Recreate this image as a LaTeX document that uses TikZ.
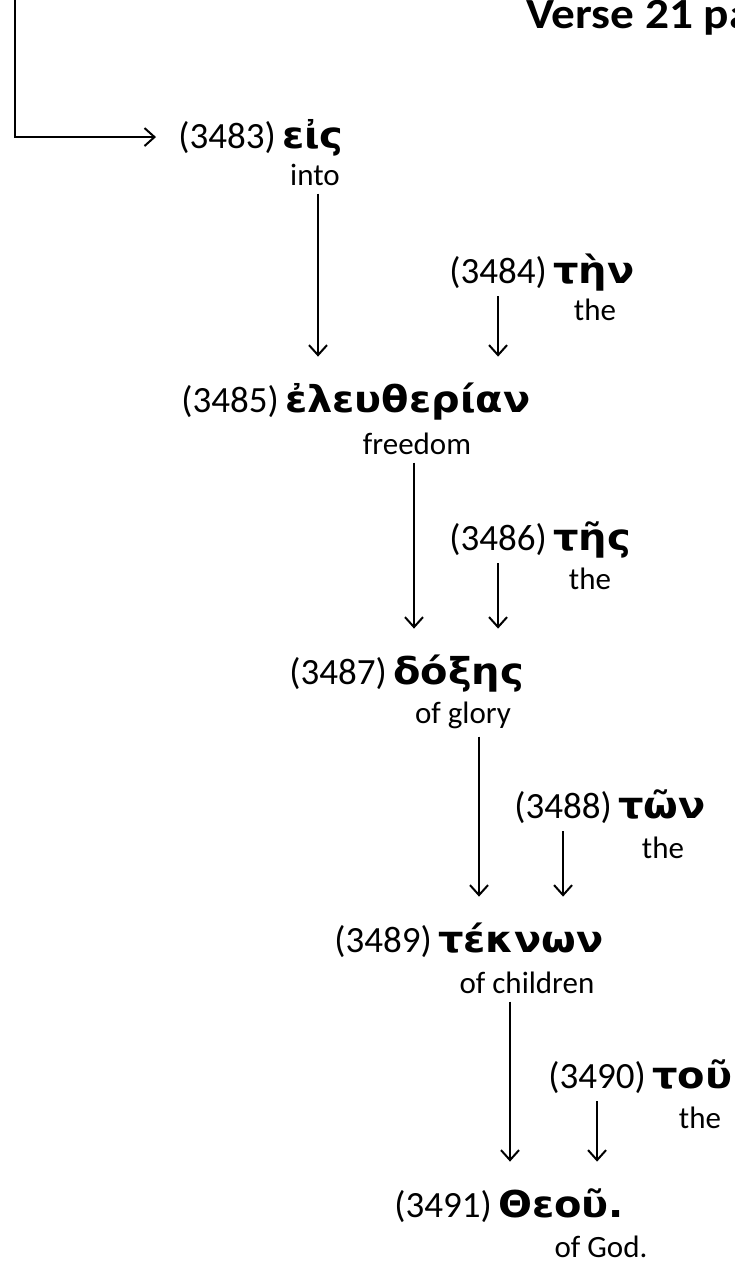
\documentclass[tikz,border=0pt]{standalone}
\usepackage{fontspec}
\setmainfont{Carlito}
\newfontfamily\titlefont[FakeStretch=1.1]{Carlito}
\newfontfamily\greekfont[FakeStretch=1.08]{DejaVu Sans}
\usetikzlibrary{positioning,arrows.meta}

\begin{document}
\begin{tikzpicture}[x=1pt,y=1pt,line width=2pt,>={Straight Barb[length=10pt,width=18pt]},
  num/.style={anchor=base west,font=\fontsize{37}{42}\selectfont},
  grk/.style={font=\greekfont\bfseries\fontsize{37}{40}\selectfont,inner xsep=1pt},
  gloss/.style={anchor=base,font=\fontsize{31}{36}\selectfont},
  link/.style={->,shorten <=4pt,shorten >=24pt}]
  \useasboundingbox (0,0) rectangle (735,-1271);
  \node[font=\titlefont\bfseries\fontsize{43}{46}\selectfont,anchor=base west] (title) at (522,-29) {Verse 21 pa};
  % words and glosses
  \node[num] (n1) at (174,-148) {(3483)};
  \node[grk,base right=0pt of n1] (w1) {εἰς};
  \node[gloss] (g1) at (315,-185) {into};
  \node[num] (n2) at (445,-283) {(3484)};
  \node[grk,base right=0pt of n2] (w2) {τὴν};
  \node[gloss] (g2) at (595,-320) {the};
  \node[num] (n3) at (177,-412) {(3485)};
  \node[grk,base right=0pt of n3] (w3) {ἐλευθερίαν};
  \node[gloss] (g3) at (417,-454) {freedom};
  \node[num] (n4) at (445,-550) {(3486)};
  \node[grk,base right=0pt of n4] (w4) {τῆς};
  \node[gloss] (g4) at (590,-589) {the};
  \node[num] (n5) at (285,-684) {(3487)};
  \node[grk,base right=0pt of n5] (w5) {δόξης};
  \node[gloss] (g5) at (463,-723) {of glory};
  \node[num] (n6) at (510,-818) {(3488)};
  \node[grk,base right=0pt of n6] (w6) {τῶν};
  \node[gloss] (g6) at (663,-858) {the};
  \node[num] (n7) at (330,-952) {(3489)};
  \node[grk,base right=0pt of n7] (w7) {τέκνων};
  \node[gloss] (g7) at (527,-993) {of children};
  \node[num] (n8) at (544,-1088) {(3490)};
  \node[grk,base right=0pt of n8] (w8) {τοῦ};
  \node[gloss] (g8) at (700,-1128) {the};
  \node[num] (n9) at (390,-1217) {(3491)};
  \node[grk,base right=0pt of n9] (w9) {Θεοῦ.};
  \node[gloss] (g9) at (601,-1257) {of God.};
  % incoming line
  \coordinate (in) at (15,0);
  \draw[->,shorten >=18pt] (in) |- (n1);
  % arrows down the chain
  \coordinate (a1) at ([xshift=3pt]g1.south);
  \coordinate (a3) at ([xshift=-3pt]g3.south);
  \coordinate (a5) at ([xshift=16pt]g5.south);
  \coordinate (a7) at ([xshift=-17pt]g7.south);
  \draw[link] (a1) -- (a1 |- n3.north);
  \draw[link] (n2.south) -- (n2.south |- n3.north);
  \draw[link] (a3) -- (a3 |- n5.north);
  \draw[link] (n4.south) -- (n4.south |- n5.north);
  \draw[link] (a5) -- (a5 |- n7.north);
  \draw[link] (n6.south) -- (n6.south |- n7.north);
  \draw[link] (a7) -- (a7 |- n9.north);
  \draw[link] (n8.south) -- (n8.south |- n9.north);
\end{tikzpicture}
\end{document}
